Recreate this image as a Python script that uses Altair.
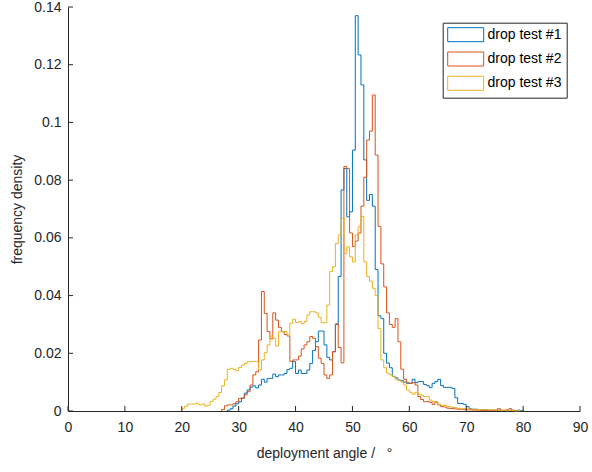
import altair as alt
import pandas as pd

# ---------------- data ----------------
series_names = ["drop test #1", "drop test #2", "drop test #3"]
series_colors = ["#0072BD", "#D95319", "#EDB120"]
bin_width = 0.5

blue_first_edge = 28.0
blue_density = [
    0.0003, 0.0008, 0.0017, 0.0025, 0.0032, 0.0045, 0.0062, 0.0073, 0.0083, 0.0087,
    0.0080, 0.0090, 0.0110, 0.0100, 0.0113, 0.0113, 0.0128, 0.0119, 0.0125, 0.0125,
    0.0130, 0.0144, 0.0148, 0.0171, 0.0130, 0.0142, 0.0130, 0.0130, 0.0142, 0.0165,
    0.0210, 0.0240, 0.0277, 0.0277, 0.0229, 0.0186, 0.0177, 0.0205, 0.0300, 0.0466,
    0.0766, 0.0840, 0.0673, 0.0690, 0.0904, 0.1370, 0.1234, 0.1130, 0.0870, 0.0730,
    0.0750, 0.0710, 0.0490, 0.0330, 0.0320, 0.0200, 0.0166, 0.0150, 0.0120, 0.0115,
    0.0107, 0.0105, 0.0100, 0.0096, 0.0096, 0.0110, 0.0098, 0.0102, 0.0102, 0.0092,
    0.0088, 0.0081, 0.0096, 0.0102, 0.0110, 0.0088, 0.0082, 0.0082, 0.0082, 0.0078,
    0.0046, 0.0026, 0.0026, 0.0023, 0.0015, 0.0008, 0.0006, 0.0006, 0.0005, 0.0004,
    0.0004, 0.0003, 0.0003, 0.0002, 0.0003, 0.0002, 0.0001, 0.0002, 0.0001, 0.0002,
    0.0001, 0.0001, 0.0003, 0.0001,
]

red_first_edge = 27.0
red_density = [
    0.0005, 0.0018, 0.0021, 0.0021, 0.0025, 0.0032, 0.0044, 0.0044, 0.0056, 0.0067,
    0.0090, 0.0125, 0.0136, 0.0246, 0.0414, 0.0338, 0.0275, 0.0250, 0.0340, 0.0315,
    0.0290, 0.0275, 0.0265, 0.0260, 0.0172, 0.0177, 0.0177, 0.0190, 0.0215, 0.0229,
    0.0240, 0.0258, 0.0252, 0.0223, 0.0183, 0.0165, 0.0125, 0.0113, 0.0125, 0.0206,
    0.0302, 0.0220, 0.0167, 0.0847, 0.0840, 0.0617, 0.0570, 0.0589, 0.0617, 0.0710,
    0.0810, 0.0939, 0.0970, 0.1095, 0.0887, 0.0640, 0.0510, 0.0430, 0.0340, 0.0300,
    0.0290, 0.0320, 0.0240, 0.0145, 0.0110, 0.0098, 0.0096, 0.0098, 0.0090, 0.0050,
    0.0040, 0.0032, 0.0033, 0.0030, 0.0023, 0.0032, 0.0021, 0.0015, 0.0014, 0.0010,
    0.0009, 0.0008, 0.0007, 0.0006, 0.0006, 0.0005, 0.0004, 0.0004, 0.0003, 0.0003,
    0.0003, 0.0002, 0.0002, 0.0003, 0.0002, 0.0002, 0.0002, 0.0008, 0.0003, 0.0002,
    0.0004, 0.0008, 0.0003, 0.0001,
]

yellow_first_edge = 20.0
yellow_density = [
    0.0009, 0.0017, 0.0024, 0.0024, 0.0024, 0.0027, 0.0021, 0.0024, 0.0017, 0.0020,
    0.0033, 0.0041, 0.0050, 0.0064, 0.0087, 0.0108, 0.0144, 0.0148, 0.0144, 0.0140,
    0.0151, 0.0159, 0.0165, 0.0171, 0.0171, 0.0171, 0.0171, 0.0142, 0.0177, 0.0202,
    0.0229, 0.0260, 0.0252, 0.0225, 0.0275, 0.0275, 0.0275, 0.0263, 0.0304, 0.0318,
    0.0307, 0.0310, 0.0302, 0.0310, 0.0333, 0.0344, 0.0344, 0.0340, 0.0325, 0.0306,
    0.0306, 0.0367, 0.0483, 0.0500, 0.0580, 0.0610, 0.0668, 0.0546, 0.0569, 0.0534,
    0.0517, 0.0610, 0.0639, 0.0674, 0.0517, 0.0466, 0.0450, 0.0425, 0.0400, 0.0286,
    0.0177, 0.0150, 0.0131, 0.0125, 0.0119, 0.0110, 0.0105, 0.0100, 0.0090, 0.0073,
    0.0065, 0.0058, 0.0065, 0.0058, 0.0055, 0.0050, 0.0050, 0.0038, 0.0032, 0.0030,
    0.0023, 0.0020, 0.0019, 0.0016, 0.0015, 0.0012, 0.0011, 0.0009, 0.0009, 0.0008,
    0.0007, 0.0007, 0.0006, 0.0006, 0.0005, 0.0005, 0.0004, 0.0004, 0.0003, 0.0004,
    0.0003, 0.0003, 0.0002, 0.0003, 0.0002, 0.0002, 0.0002, 0.0001, 0.0001,
]

x_ticks = [0, 10, 20, 30, 40, 50, 60, 70, 80, 90]
y_ticks = [0, 0.02, 0.04, 0.06, 0.08, 0.1, 0.12, 0.14]


# ---------------- stairs outline table ----------------
def stairs(name, first_edge, values):
    rows = [{"series": name, "angle": first_edge, "density": 0.0, "k": 0}]
    for i, v in enumerate(values):
        rows.append({"series": name, "angle": first_edge + i * bin_width,
                     "density": v, "k": i + 1})
    rows.append({"series": name, "angle": first_edge + len(values) * bin_width,
                 "density": 0.0, "k": len(values) + 1})
    return rows


rows = (stairs(series_names[0], blue_first_edge, blue_density)
        + stairs(series_names[1], red_first_edge, red_density)
        + stairs(series_names[2], yellow_first_edge, yellow_density))
df = pd.DataFrame(rows)
tick_x_df = pd.DataFrame({"angle": x_ticks})
tick_y_df = pd.DataFrame({"density": y_ticks})

FONT = "Liberation Sans"
TXT = "#262626"
FS = 14
PLOT_W, PLOT_H = 512, 404

x_scale = alt.Scale(domain=[0, 90], nice=False, zero=False)
y_scale = alt.Scale(domain=[0, 0.14], nice=False, zero=False)

x_axis = alt.Axis(values=x_ticks, title="deployment angle / \u00a0\u00a0°",
                  labelPadding=9, titlePadding=12, labelFlush=False,
                  labelOverlap=False, format="d")
y_axis = alt.Axis(values=y_ticks, title="frequency density",
                  labelPadding=7, titlePadding=9, labelFlush=False,
                  labelOverlap=False, format="~g")

lines = alt.Chart(df).mark_line(interpolate="step-after", strokeWidth=1).encode(
    x=alt.X("angle:Q", scale=x_scale, axis=x_axis),
    y=alt.Y("density:Q", scale=y_scale, axis=y_axis),
    color=alt.Color("series:N",
                    scale=alt.Scale(domain=series_names, range=series_colors),
                    legend=alt.Legend(
                        title=None, orient="none", legendX=374.7, legendY=15.7,
                        symbolType="M-1,-1H4.14V1H-1Z", symbolSize=196,
                        symbolStrokeWidth=1, labelOffset=25.3,
                        padding=4.5, rowPadding=5.3,
                        strokeColor=TXT, fillColor="white", cornerRadius=0,
                        labelFont=FONT, labelFontSize=FS, labelColor="#000000",
                    )),
    order=alt.Order("k:Q"),
)

x_tick_marks = alt.Chart(tick_x_df).mark_rule(color=TXT, strokeWidth=1).encode(
    x=alt.X("angle:Q", scale=x_scale, axis=x_axis),
    y=alt.value(PLOT_H), y2=alt.value(PLOT_H - 5),
)

y_tick_marks = alt.Chart(tick_y_df).mark_rule(color=TXT, strokeWidth=1).encode(
    y=alt.Y("density:Q", scale=y_scale, axis=y_axis),
    x=alt.value(0), x2=alt.value(5),
)

chart = alt.layer(lines, x_tick_marks, y_tick_marks).properties(
    width=PLOT_W, height=PLOT_H,
    autosize=alt.AutoSizeParams(type="none"),
    padding={"left": 68, "top": 7, "right": 12, "bottom": 61},
    background="white",
).configure_view(stroke=None).configure_axis(
    grid=False, ticks=False, tickSize=0,
    domainColor=TXT, domainWidth=1,
    labelFont=FONT, labelFontSize=FS, labelColor=TXT,
    titleFont=FONT, titleFontSize=FS, titleColor=TXT, titleFontWeight="normal",
)

chart.save("out.html", embed_options={"renderer": "svg", "actions": False})
